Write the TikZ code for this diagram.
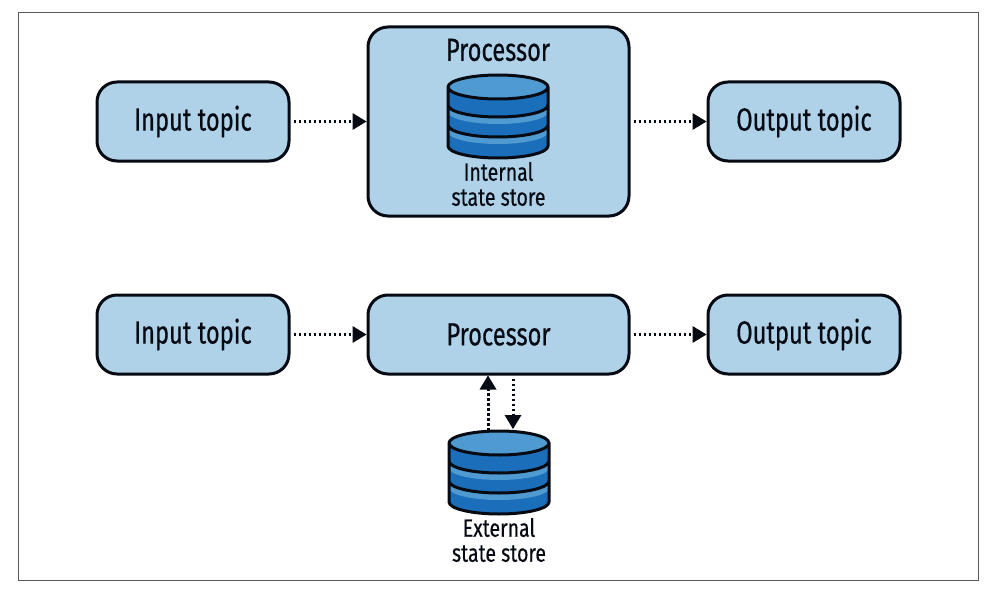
\documentclass[tikz,border=0pt]{standalone}
\usepackage{fontspec}
\setmainfont[FakeStretch=0.74,FakeBold=0.45]{Fira Sans}
\newfontfamily\smallfam[FakeStretch=0.78,FakeBold=0.45]{Fira Sans}
\definecolor{boxblue}{HTML}{AFD2E9}
\definecolor{dbdark}{HTML}{1B6FBA}
\definecolor{dblight}{HTML}{4F9BD1}
\definecolor{inkk}{HTML}{060A12}
\tikzset{
  x=1pt,y=-1pt,
  topicbox/.style={draw=inkk,line width=3pt,fill=boxblue,rounded corners=20pt,minimum width=192pt,minimum height=79pt,inner sep=0pt,font=\fontsize{32}{34}\selectfont,text=inkk},
  flow/.style={draw=inkk,line width=3pt,dash pattern=on 2.6pt off 2.4pt},
  dbl/.style={font=\smallfam\fontsize{25}{25}\selectfont,text=inkk,align=center,inner sep=0pt},
  pics/dbstore/.style={code={
    \fill[dbdark] (-50,12) -- (-50,71) arc[start angle=180,end angle=0,x radius=50,y radius=12] -- (50,12) -- cycle;
    \fill[dblight] (-50,30) arc[start angle=180,end angle=0,x radius=50,y radius=12] -- (50,37) arc[start angle=0,end angle=180,x radius=50,y radius=12] -- cycle;
    \fill[dblight] (-50,50) arc[start angle=180,end angle=0,x radius=50,y radius=12] -- (50,57) arc[start angle=0,end angle=180,x radius=50,y radius=12] -- cycle;
    \fill[dblight] (0,12) ellipse[x radius=50,y radius=12];
    \draw[inkk,line width=3pt,line cap=round,line join=round]
      (-50,12) arc[start angle=180,end angle=-180,x radius=50,y radius=12]
      (-50,12) -- (-50,71) arc[start angle=180,end angle=0,x radius=50,y radius=12] -- (50,12)
      (-50,30) arc[start angle=180,end angle=0,x radius=50,y radius=12]
      (-50,50) arc[start angle=180,end angle=0,x radius=50,y radius=12];
  }}
}
\begin{document}
\begin{tikzpicture}
\useasboundingbox (0,0) rectangle (996,594);
\draw[color=black!65,line width=1pt] (18.5,12.5) rectangle (978.5,580.5);

\node[topicbox] (in1) at (193,121.5) {Input topic};
\node[topicbox,minimum width=261pt,minimum height=189pt] (proc1) at (498.5,121.5) {};
\node[topicbox] (out1) at (804,121.5) {Output topic};
\node[inner sep=0pt,font=\fontsize{32}{34}\selectfont,text=inkk] (proc1t) at (498,50) {Processor};
\pic at (498,75) {dbstore};
\node[dbl] (int) at (498.5,184) {Internal\\state store};

\node[topicbox] (in2) at (193,334.5) {Input topic};
\node[topicbox,minimum width=261pt] (proc2) at (498.5,334.5) {Processor};
\node[topicbox] (out2) at (804,334.5) {Output topic};
\pic at (499,431) {dbstore};
\node[dbl] (ext) at (499,540) {External\\state store};

\coordinate (storetop) at (499,431);

\foreach \a/\b in {in1/proc1,proc1/out1,in2/proc2,proc2/out2}{
  \path (\a.east) ++(3,0) coordinate (s);
  \draw[flow] (s) -- ++(63,0);
  \fill[inkk] (\b.west) -- ++(-14,-8.5) -- ++(0,17) -- cycle;
}
\path (proc2.south) ++(-10.5,0) coordinate (upe);
\path (storetop) ++(-11,0) coordinate (ups);
\draw[flow] (ups) -- ++(0,-43);
\fill[inkk] (upe) -- ++(-8.5,14) -- ++(17,0) -- cycle;
\path (proc2.south) ++(14.5,3) coordinate (dns);
\path (storetop) ++(14,-2) coordinate (dne);
\draw[flow] (dns) -- ++(0,40);
\fill[inkk] (dne) -- ++(-8.5,-14) -- ++(17,0) -- cycle;
\end{tikzpicture}
\end{document}
